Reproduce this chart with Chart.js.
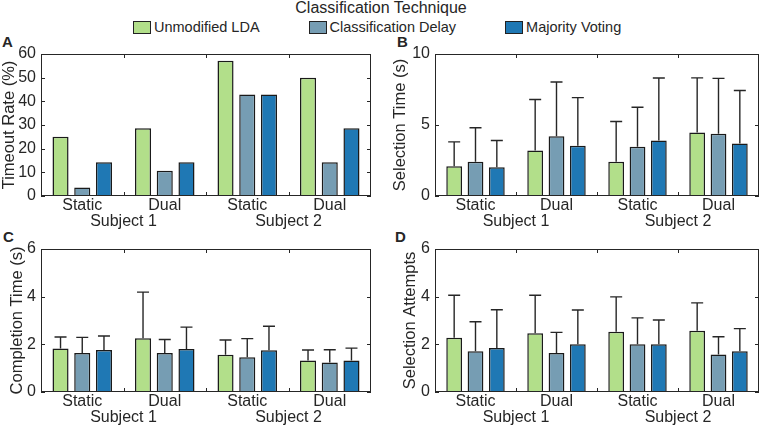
<!DOCTYPE html>
<html>
<head>
<meta charset="utf-8">
<script src="https://cdn.jsdelivr.net/npm/chart.js@4.4.1/dist/chart.umd.min.js"></script>
<style>
  body { margin: 0; background: #fff; width: 767px; height: 428px; position: relative; overflow: hidden;
         font-family: 'Liberation Sans', Arial, sans-serif; color: #262626; }
  canvas { position: absolute; }
  .letter { position: absolute; font-weight: bold; font-size: 15px; line-height: 15px; }
  #legendTitle { position: absolute; left: 0; width: 762px; top: 0; text-align: center; font-size: 16px; line-height: 16px; }
  #legend { position: absolute; left: 133px; top: 19px; display: flex; gap: 49px; font-size: 14.5px; line-height: 16px; }
  #legend .item { display: flex; align-items: center; }
  #legend .box { width: 18px; height: 13px; border: 1.5px solid #222; margin-right: 3px; box-sizing: border-box; }
</style>
</head>
<body>
<div id="legendTitle">Classification Technique</div>
<div id="legend"></div>

<div class="letter" style="left:2px; top:34px">A</div>
<div class="letter" style="left:397px; top:34px">B</div>
<div class="letter" style="left:3px; top:229px">C</div>
<div class="letter" style="left:395px; top:229px">D</div>

<canvas id="chartA"></canvas>
<canvas id="chartB"></canvas>
<canvas id="chartC"></canvas>
<canvas id="chartD"></canvas>

<script>
const categories = ['Static', 'Dual', 'Static', 'Dual'];
const subjects = ['Subject 1', 'Subject 2'];
const techniques = ['Unmodified LDA', 'Classification Delay', 'Majority Voting'];
const colors = ['#b2df8a', '#769db3', '#1f78b4'];

// A: timeout rate (%)
const timeoutLDA = [25.0, 28.6, 57.1, 50.0];
const timeoutDelay = [3.6, 10.7, 42.9, 14.3];
const timeoutVoting = [14.3, 14.3, 42.9, 28.6];

// B: selection time (s), mean and upper error
const selTimeLDA = [2.09, 3.21, 2.42, 4.47];
const selTimeLDAErr = [1.72, 3.59, 2.83, 3.85];
const selTimeDelay = [2.42, 4.20, 3.46, 4.38];
const selTimeDelayErr = [2.39, 3.83, 2.79, 3.90];
const selTimeVoting = [2.03, 3.54, 3.90, 3.69];
const selTimeVotingErr = [1.88, 3.39, 4.41, 3.74];

// C: completion time (s)
const compTimeLDA = [1.83, 2.26, 1.56, 1.32];
const compTimeLDAErr = [0.48, 1.93, 0.62, 0.44];
const compTimeDelay = [1.64, 1.64, 1.46, 1.24];
const compTimeDelayErr = [0.65, 0.56, 0.78, 0.53];
const compTimeVoting = [1.76, 1.80, 1.75, 1.32];
const compTimeVotingErr = [0.59, 0.92, 1.01, 0.52];

// D: selection attempts
const attemptsLDA = [2.28, 2.46, 2.53, 2.57];
const attemptsLDAErr = [1.78, 1.60, 1.46, 1.17];
const attemptsDelay = [1.71, 1.64, 2.00, 1.57];
const attemptsDelayErr = [1.24, 0.86, 1.11, 0.75];
const attemptsVoting = [1.85, 2.00, 2.00, 1.71];
const attemptsVotingErr = [1.60, 1.44, 1.02, 0.95];

const textColor = '#262626';
const fontFamily = "'Liberation Sans', Arial, sans-serif";

// legend (html)
const legendEl = document.getElementById('legend');
techniques.forEach((t, i) => {
    const item = document.createElement('div');
    item.className = 'item';
    item.innerHTML = '<span class="box" style="background:' + colors[i] + '"></span><span>' + t + '</span>';
    legendEl.appendChild(item);
});

// box, inward ticks, error bars and subject labels
const framePlugin = {
    id: 'frame',
    afterDatasetsDraw(chart) {
        const ctx = chart.ctx;
        const y = chart.scales.y;
        ctx.save();
        ctx.strokeStyle = '#262626';
        ctx.lineWidth = 1.4;
        chart.data.datasets.forEach((ds, i) => {
            if (!ds.errors) return;
            chart.getDatasetMeta(i).data.forEach((bar, j) => {
                const top = y.getPixelForValue(ds.data[j] + ds.errors[j]);
                ctx.beginPath();
                ctx.moveTo(bar.x, bar.y);
                ctx.lineTo(bar.x, top);
                ctx.moveTo(bar.x - 6, top);
                ctx.lineTo(bar.x + 6, top);
                ctx.stroke();
            });
        });
        ctx.restore();
    },
    afterDraw(chart) {
        const ctx = chart.ctx;
        const a = chart.chartArea;
        const x = chart.scales.x, y = chart.scales.y;
        ctx.save();
        ctx.strokeStyle = '#262626';
        ctx.lineWidth = 1;
        ctx.strokeRect(Math.round(a.left) + 0.5, Math.round(a.top) + 0.5,
                       Math.round(a.width) - 1, Math.round(a.height) - 1);
        ctx.beginPath();
        y.ticks.forEach(t => {
            const py = Math.round(y.getPixelForValue(t.value)) + 0.5;
            ctx.moveTo(a.left, py); ctx.lineTo(a.left + 4, py);
            ctx.moveTo(a.right, py); ctx.lineTo(a.right - 4, py);
        });
        for (let i = 1; i < categories.length; i++) {
            const px = Math.round((x.getPixelForValue(i - 1) + x.getPixelForValue(i)) / 2) + 0.5;
            ctx.moveTo(px, a.bottom); ctx.lineTo(px, a.bottom - 4);
            ctx.moveTo(px, a.top); ctx.lineTo(px, a.top + 4);
        }
        ctx.stroke();
        ctx.fillStyle = textColor;
        ctx.font = '16px ' + fontFamily;
        ctx.textAlign = 'center';
        ctx.textBaseline = 'alphabetic';
        subjects.forEach((s, k) => {
            const px = (x.getPixelForValue(2 * k) + x.getPixelForValue(2 * k + 1)) / 2;
            ctx.fillText(s, px, a.bottom + 29.5);
        });
        ctx.restore();
    }
};

function makeDatasets(values, errors) {
    return techniques.map((t, i) => ({
        label: t,
        data: values[i],
        errors: errors ? errors[i] : null,
        backgroundColor: colors[i],
        borderColor: '#1a1a1a',
        borderWidth: 1.5,
        categoryPercentage: 0.79,
        barPercentage: 0.74
    }));
}

function makePanel(id, box, yTitle, yMax, yStep, values, errors) {
    const canvas = document.getElementById(id);
    canvas.width = box.w;
    canvas.height = box.h;
    canvas.style.left = box.left + 'px';
    canvas.style.top = box.top + 'px';
    new Chart(canvas, {
        type: 'bar',
        data: { labels: categories, datasets: makeDatasets(values, errors) },
        options: {
            responsive: false,
            animation: false,
            devicePixelRatio: 1,
            layout: { padding: { top: box.padTop, right: box.padRight, left: 0, bottom: 0 } },
            plugins: { legend: { display: false }, tooltip: { enabled: false } },
            scales: {
                x: {
                    grid: { display: false, drawTicks: false },
                    border: { display: false },
                    ticks: { color: textColor, font: { family: fontFamily, size: 16 }, padding: 0,
                             maxRotation: 0, autoSkip: false },
                    afterFit: s => { s.height = box.xh; }
                },
                y: {
                    min: 0, max: yMax,
                    grid: { display: false, drawTicks: false },
                    border: { display: false },
                    ticks: { stepSize: yStep, color: textColor, font: { family: fontFamily, size: 16 }, padding: 5 },
                    title: { display: true, text: yTitle, color: textColor,
                             font: { family: fontFamily, size: 16.5 }, padding: 0 },
                    afterFit: s => { s.width = box.yw; }
                }
            }
        },
        plugins: [framePlugin]
    });
}

makePanel('chartA', { left: 0, top: 30, w: 383, h: 205, yw: 41, padTop: 24, padRight: 12, xh: 39 },
    'Timeout Rate (%)', 60, 10, [timeoutLDA, timeoutDelay, timeoutVoting], null);
makePanel('chartB', { left: 391, top: 30, w: 376, h: 205, yw: 44, padTop: 24, padRight: 8, xh: 39 },
    'Selection Time (s)', 10, 5, [selTimeLDA, selTimeDelay, selTimeVoting],
    [selTimeLDAErr, selTimeDelayErr, selTimeVotingErr]);
makePanel('chartC', { left: 8, top: 232, w: 375, h: 196, yw: 33, padTop: 17, padRight: 12, xh: 36 },
    'Completion Time (s)', 6, 2, [compTimeLDA, compTimeDelay, compTimeVoting],
    [compTimeLDAErr, compTimeDelayErr, compTimeVotingErr]);
makePanel('chartD', { left: 401, top: 232, w: 366, h: 196, yw: 34, padTop: 17, padRight: 8, xh: 36 },
    'Selection Attempts', 6, 2, [attemptsLDA, attemptsDelay, attemptsVoting],
    [attemptsLDAErr, attemptsDelayErr, attemptsVotingErr]);
</script>
</body>
</html>
